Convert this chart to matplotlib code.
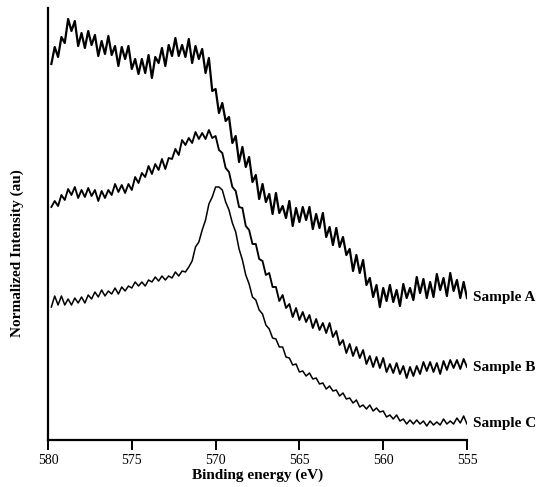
import numpy as np
import matplotlib
matplotlib.use("Agg")
import matplotlib.pyplot as plt

# Binding energy grid (eV), 0.2 eV steps from 579.8 down to 555.0
energy = np.linspace(579.8, 555.0, 125)

sample_a = [376, 393, 383, 403, 397, 421, 409, 419, 394, 407, 392, 409, 395, 405, 384, 399,
            386, 404, 385, 394, 374, 393, 381, 394, 371, 381, 366, 381, 367, 385, 362, 383,
            377, 392, 374, 395, 384, 402, 384, 395, 383, 401, 377, 394, 381, 391, 367, 382,
            349, 351, 327, 337, 319, 323, 297, 304, 278, 293, 273, 283, 258, 265, 241, 256,
            238, 246, 226, 247, 227, 234, 222, 239, 214, 232, 218, 233, 220, 233, 211, 226,
            212, 227, 203, 213, 195, 212, 193, 203, 185, 191, 169, 185, 167, 180, 155, 162,
            143, 155, 133, 152, 139, 155, 138, 150, 134, 156, 142, 152, 140, 163, 147, 161,
            142, 158, 143, 166, 150, 162, 144, 167, 149, 160, 142, 158, 142]

sample_b = [233, 239, 234, 245, 240, 251, 245, 253, 242, 250, 243, 252, 244, 250, 239, 249,
            242, 250, 245, 256, 248, 255, 247, 256, 250, 263, 257, 267, 263, 274, 266, 276,
            270, 281, 271, 282, 281, 291, 285, 300, 295, 302, 297, 308, 301, 307, 301, 310,
            302, 304, 290, 287, 272, 268, 253, 249, 233, 232, 214, 210, 196, 196, 181, 179,
            165, 167, 153, 153, 139, 145, 132, 136, 123, 132, 120, 128, 118, 125, 112, 121,
            110, 117, 107, 117, 103, 109, 95, 100, 87, 96, 84, 93, 82, 90, 76, 84,
            73, 83, 72, 82, 68, 76, 67, 77, 66, 74, 62, 73, 64, 74, 66, 78,
            69, 78, 68, 77, 66, 79, 70, 80, 72, 80, 71, 81, 73]

sample_c = [133, 144, 135, 144, 135, 141, 135, 142, 137, 143, 137, 145, 141, 148, 143, 150,
            144, 149, 146, 152, 146, 153, 149, 154, 152, 158, 154, 158, 154, 160, 158, 163,
            159, 164, 160, 164, 162, 168, 164, 169, 168, 173, 179, 193, 198, 210, 220, 236,
            243, 253, 253, 250, 238, 230, 217, 208, 191, 180, 165, 156, 143, 140, 130, 126,
            115, 111, 102, 101, 93, 93, 83, 82, 75, 76, 68, 69, 64, 67, 61, 62,
            56, 57, 51, 54, 49, 50, 44, 47, 41, 42, 37, 40, 33, 35, 31, 35,
            29, 32, 28, 29, 23, 25, 21, 25, 19, 21, 16, 20, 16, 20, 16, 19,
            14, 19, 15, 18, 15, 21, 16, 19, 16, 22, 17, 24, 16]

series_names = ["Sample A", "Sample B", "Sample C"]
x_ticks = [580, 575, 570, 565, 560, 555]

plt.rcParams["font.family"] = ["Liberation Serif", "DejaVu Serif"]

fig = plt.figure(figsize=(5.36, 4.87), dpi=100)
ax = fig.add_axes([48 / 536, 1 - 440 / 487, (467 - 48) / 536, (440 - 8) / 487])

widths = [1.6, 1.35, 1.1]
for vals, name, lw in zip([sample_a, sample_b, sample_c], series_names, widths):
    ax.plot(energy, vals, color="black", lw=lw)
    ax.annotate(name, xy=(energy[-1], vals[-1]), xytext=(4, 0), textcoords="offset points",
                va="center", ha="left", fontsize=11, fontweight="bold", annotation_clip=False)

ax.set_xlim(580, 555)
ax.set_ylim(0, 432)
ax.set_xticks(x_ticks)
ax.set_xticklabels([str(t) for t in x_ticks], fontsize=10)
ax.set_yticks([])
ax.tick_params(axis="x", direction="out", length=7, width=1.4, pad=3)
for s in ["top", "right"]:
    ax.spines[s].set_visible(False)
for s in ["left", "bottom"]:
    ax.spines[s].set_linewidth(1.6)

ax.set_xlabel("Binding energy (eV)", fontsize=11, fontweight="bold", labelpad=1)
fig.text(17 / 536, 1 - 253 / 487, "Normalized Intensity (au)", rotation=90,
         ha="center", va="center", fontsize=11, fontweight="bold")

fig.savefig("out.png", dpi=100)
